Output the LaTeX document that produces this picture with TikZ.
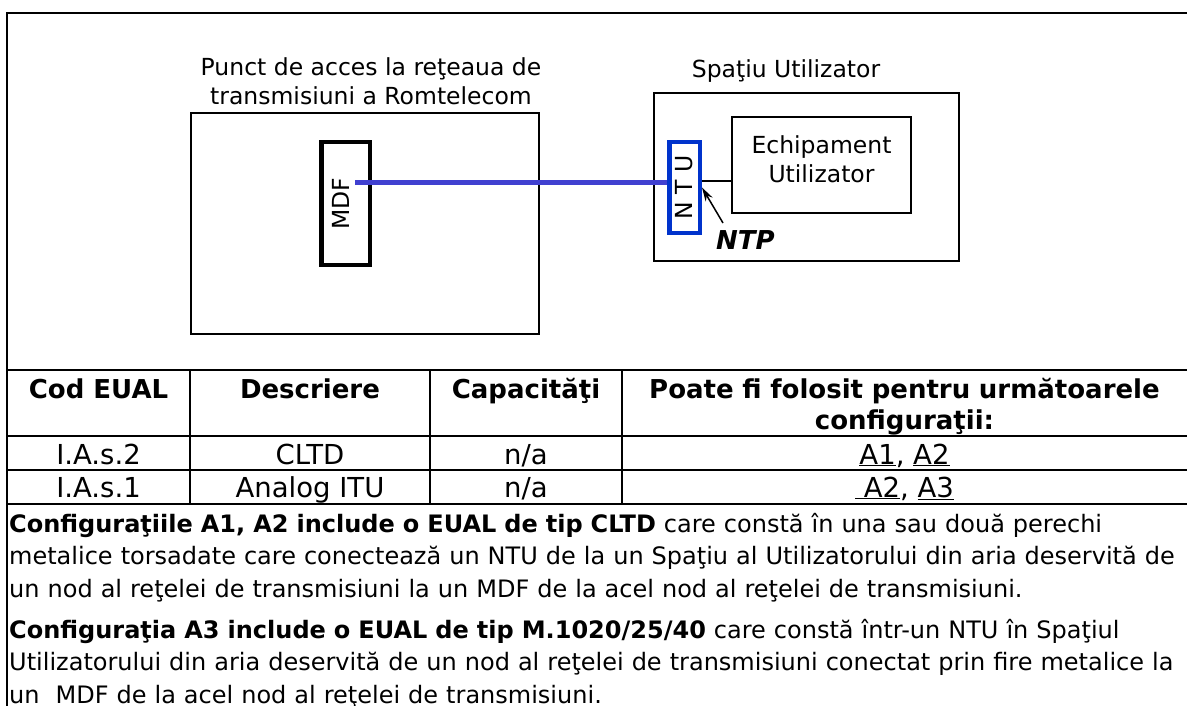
\documentclass[tikz,border=0pt]{standalone}
\usepackage{fontspec}
\setmainfont{DejaVu Sans}
\definecolor{ntublue}{RGB}{0,51,204}
\definecolor{wireblue}{RGB}{64,64,208}
\usetikzlibrary{arrows.meta,positioning}

\begin{document}
\begin{tikzpicture}[x=1pt, y=-1pt,
  every node/.style={inner sep=0pt, font=\fontsize{23.5}{28.5}\selectfont},
  lbl/.style={align=center},
  box/.style={draw, line width=1.5pt},
  frm/.style={box, line width=4.5pt},
  tab/.style={font=\fontsize{27.5}{32}\selectfont, anchor=base},
  hd/.style={font=\bfseries\fontsize{26}{31.5}\selectfont, anchor=base, align=center},
  txt/.style={font=\fontsize{24}{32.5}\selectfont, anchor=base west, align=left}]
\useasboundingbox (0,0) rectangle (1187,706);
\draw[line width=2pt] (1187,13) -- (7,13) -- (7,706);

\node[box, minimum width=348pt, minimum height=221pt] (acces) at (365,223.5) {};
\node[lbl] (titlu) at (371,81) {Punct de acces la reţeaua de\\transmisiuni a Romtelecom};
\node[frm, minimum width=48.5pt, minimum height=122.5pt] (mdf) at (345.5,203.5) {\rotatebox{90}{MDF}\hspace*{9pt}};

\node[box, minimum width=305pt, minimum height=168pt] (spatiu) at (806.5,177) {};
\node[anchor=base] (spatiulbl) at (786,78) {Spaţiu Utilizator};
\node[frm, draw=ntublue, minimum width=30.5pt, minimum height=90.5pt] (ntu) at (684.5,187.5) {\rotatebox{90}{N T U}};
\node[box, minimum width=179pt, minimum height=96pt] (echip) at (821.5,165) {};
\node[lbl] (echiplbl) at ([yshift=6pt]echip.center) {Echipament\\Utilizator};
\node[font=\bfseries\itshape\fontsize{26}{30}\selectfont, anchor=base west] (ntp) at (716,249) {NTP};

\coordinate (mdfport) at (355,183);
\coordinate (ntptail) at (723,223);
\draw[wireblue, line width=5pt] (mdfport) -- (mdfport -| ntu.west);
\draw[line width=1.5pt] ([yshift=6.5pt]ntu.east) -- ([yshift=6.5pt]ntu.east -| echip.west);
\draw[line width=1.5pt, -{Stealth[length=14pt,width=8pt]}] (ntptail) -- (ntu.east);

\draw[line width=2pt] (7,370) -- (1187,370) (7,436) -- (1187,436)
  (7,469.5) -- (1187,469.5) (7,504) -- (1187,504)
  (190,370) -- (190,504) (430,370) -- (430,504) (622,370) -- (622,504);
\node[hd] (h1) at (98.5,398) {Cod EUAL};
\node[hd] (h2) at (310,398) {Descriere};
\node[hd] (h3) at (526,398) {Capacităţi};
\node[hd, text width=560pt] (h4) at (904.5,398) {Poate fi folosit pentru următoarele\\configuraţii:};
\node[tab] (c11) at (98.5,464) {I.A.s.2};
\node[tab] (c12) at (310,464) {CLTD};
\node[tab] (c13) at (526,464) {n/a};
\node[tab] (c14) at (904.5,464) {\underline{A1}, \underline{A2}};
\node[tab] (c21) at (98.5,497) {I.A.s.1};
\node[tab] (c22) at (310,497) {Analog ITU};
\node[tab] (c23) at (526,497) {n/a};
\node[tab] (c24) at (904.5,497) {\underline{\ A2}, \underline{A3}};

\node[txt, text width=1164pt] (par1) at (9,532)
  {\makebox[1164pt][s]{\textbf{Configuraţiile A1, A2 include o EUAL de tip CLTD} care constă în una sau două perechi}\\
   \makebox[1164pt][s]{metalice torsadate care conectează un NTU de la un Spaţiu al Utilizatorului din aria deservită de}\\
   un nod al reţelei de transmisiuni la un MDF de la acel nod al reţelei de transmisiuni.};
\node[txt, text width=1178pt] (par2) at (9,638)
  {\textbf{Configuraţia A3 include o EUAL de tip M.1020/25/40} care constă într-un NTU în Spaţiul\\
   Utilizatorului din aria deservită de un nod al reţelei de transmisiuni conectat prin fire metalice la\\
   un \ MDF de la acel nod al reţelei de transmisiuni.};
\end{tikzpicture}
\end{document}
